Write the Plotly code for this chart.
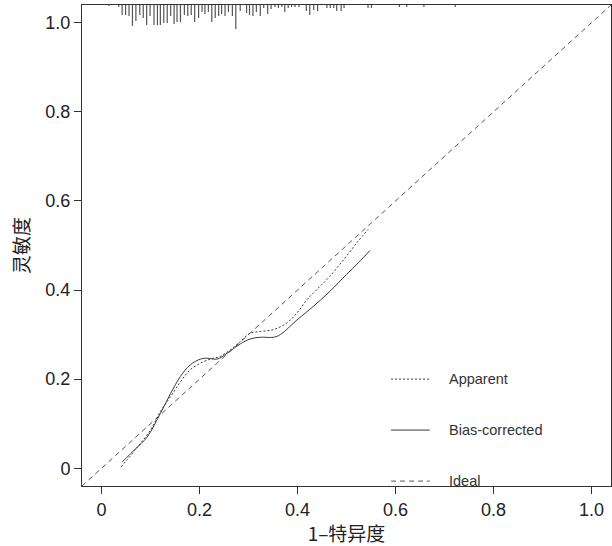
import plotly.graph_objects as go

# calibration curves
app_x = [0.040, 0.070, 0.100, 0.120, 0.141, 0.161, 0.181, 0.202, 0.222, 0.242, 0.263, 0.283,
         0.303, 0.324, 0.351, 0.378, 0.400, 0.419, 0.442, 0.466, 0.494, 0.521, 0.544]
app_y = [0.003, 0.043, 0.086, 0.127, 0.161, 0.194, 0.221, 0.236, 0.245, 0.251, 0.266, 0.284,
         0.303, 0.307, 0.311, 0.326, 0.350, 0.378, 0.404, 0.431, 0.468, 0.506, 0.536]

bc_x = [0.042, 0.068, 0.093, 0.120, 0.141, 0.161, 0.181, 0.202, 0.215, 0.236, 0.256, 0.283,
        0.303, 0.324, 0.351, 0.365, 0.399, 0.432, 0.466, 0.500, 0.525, 0.548]
bc_y = [0.014, 0.042, 0.070, 0.123, 0.168, 0.206, 0.232, 0.245, 0.247, 0.245, 0.258, 0.279,
        0.290, 0.294, 0.294, 0.300, 0.333, 0.363, 0.397, 0.435, 0.462, 0.489]

ideal = [-0.04, 1.04]

# rug of predicted values (position, frequency)
rug_x = [0.015, 0.035, 0.042, 0.049, 0.056, 0.063, 0.070, 0.078, 0.085, 0.092, 0.099, 0.107,
         0.114, 0.120, 0.127, 0.134, 0.141, 0.148, 0.154, 0.161, 0.169, 0.176, 0.183, 0.190,
         0.198, 0.205, 0.211, 0.218, 0.225, 0.232, 0.239, 0.245, 0.252, 0.259, 0.267, 0.274,
         0.283, 0.296, 0.302, 0.309, 0.316, 0.324, 0.331, 0.339, 0.346, 0.354, 0.361, 0.368,
         0.374, 0.381, 0.388, 0.395, 0.403, 0.418, 0.425, 0.433, 0.441, 0.460, 0.467, 0.474,
         0.480, 0.489, 0.495, 0.544, 0.551, 0.608, 0.623, 0.658, 0.722]
rug_n = [1, 2, 10, 10, 11, 21, 16, 10, 13, 20, 11, 20,
         20, 20, 18, 18, 11, 19, 17, 17, 10, 11, 10, 17,
         13, 7, 9, 7, 17, 13, 11, 9, 11, 7, 11, 24,
         6, 8, 10, 11, 7, 11, 3, 9, 4, 2, 3, 2,
         7, 3, 2, 2, 2, 6, 10, 5, 6, 3, 3, 3,
         6, 6, 3, 3, 3, 2, 2, 2, 2]

ticks = [0, 0.2, 0.4, 0.6, 0.8, 1.0]
tick_text = ["0", "0.2", "0.4", "0.6", "0.8", "1.0"]

legend_names = ["Apparent", "Bias-corrected", "Ideal"]

LINE = "#3a3a3a"
DOT = "2px,2px"
DASH = "5px,4px"
legend_dash = [DOT, "solid", DASH]
TOP = 1.04
rug_scale = 1 / 445.0

fig = go.Figure()

rx, ry = [], []
for x, n in zip(rug_x, rug_n):
    rx += [x, x, None]
    ry += [TOP, TOP - n * rug_scale, None]
fig.add_trace(go.Scatter(x=rx, y=ry, mode="lines", line=dict(color="#555555", width=1.2),
                         hoverinfo="skip", showlegend=False))

fig.add_trace(go.Scatter(x=ideal, y=ideal, mode="lines", name="Ideal",
                         line=dict(color="#555555", width=1, dash=DASH), showlegend=False))
fig.add_trace(go.Scatter(x=app_x, y=app_y, mode="lines", name="Apparent", line_shape="spline",
                         line=dict(color=LINE, width=1, dash=DOT), showlegend=False))
fig.add_trace(go.Scatter(x=bc_x, y=bc_y, mode="lines", name="Bias-corrected", line_shape="spline",
                         line=dict(color=LINE, width=1), showlegend=False))

# hand-drawn legend like R's legend()
leg_y = [0.200, 0.0856, -0.029]
for name, dash, ly in zip(legend_names, legend_dash, leg_y):
    fig.add_shape(type="line", xref="x", yref="y", x0=0.591, x1=0.670, y0=ly, y1=ly,
                  line=dict(color="#555555" if dash == DASH else LINE, width=1, dash=dash))
    fig.add_annotation(x=0.705, y=ly, xref="x", yref="y", text=name, showarrow=False,
                       xanchor="left", yanchor="middle",
                       font=dict(family="Liberation Sans, Arial", size=14.5, color="#333333"))

axis_common = dict(range=[-0.04, 1.04], tickvals=ticks, ticktext=tick_text, showgrid=False,
                   zeroline=False, showline=True, linecolor="#333333", linewidth=1, mirror=True,
                   ticks="outside", ticklen=7, tickcolor="#333333", automargin=False,
                   tickfont=dict(family="Liberation Sans, Arial", size=18, color="#222222"))

fig.update_layout(
    width=612, height=546,
    margin=dict(l=82, r=1, t=5, b=60),
    plot_bgcolor="white", paper_bgcolor="white",
    xaxis=dict(**axis_common,
               title=dict(text="1–特异度", standoff=3,
                          font=dict(family="Noto Sans CJK SC", size=19, color="#222222"))),
    yaxis=dict(**axis_common,
               title=dict(text="灵敏度", standoff=10,
                          font=dict(family="Noto Sans CJK SC", size=19, color="#222222"))),
)

# drop the browser's default body margin so the figure sits at the page corner
fig.write_html("out.html", config={"displayModeBar": False},
               post_script="document.body.style.margin='0';")
